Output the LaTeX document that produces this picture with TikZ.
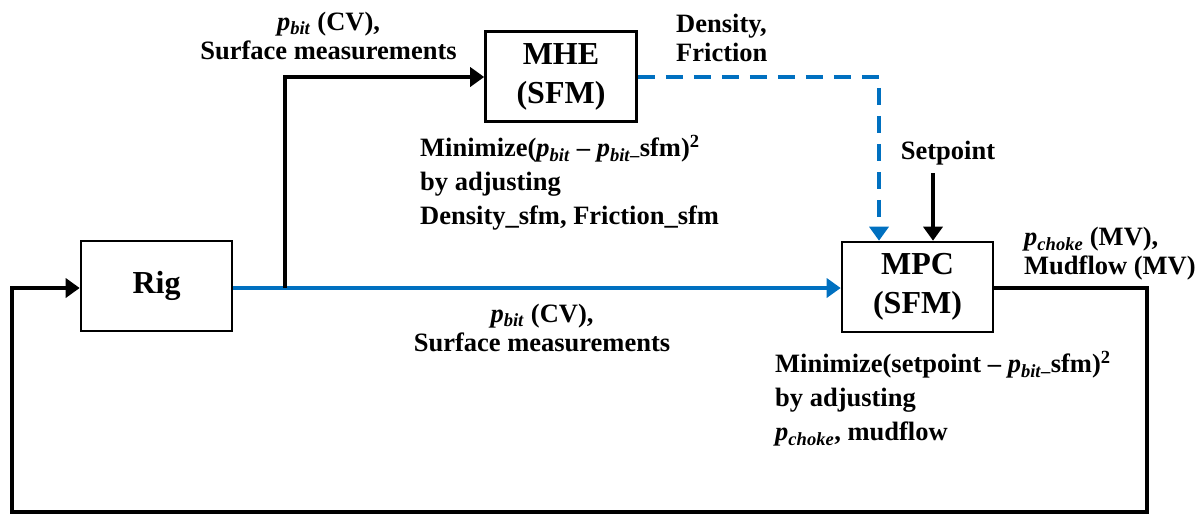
\documentclass[tikz,border=0pt]{standalone}
\usepackage{fontspec}
\setmainfont{Liberation Serif}
\usetikzlibrary{arrows.meta}
\definecolor{lineblue}{RGB}{0,112,192}
\newcommand{\pbit}{\textit{p}\textsubscript{\textit{bit}}}
\newcommand{\pchoke}{\textit{p}\textsubscript{\textit{choke}}}
\begin{document}
\begin{tikzpicture}[x=1pt,y=-1pt,
  blockbox/.style={draw, line width=2.6pt, minimum width=151pt, minimum height=90pt, inner sep=0pt,
    align=center, font=\bfseries\fontsize{32}{39}\selectfont},
  lbl/.style={inner sep=0pt, font=\bfseries\fontsize{26.5}{29}\selectfont},
  lblwide/.style={inner sep=0pt, font=\bfseries\fontsize{26.5}{34}\selectfont},
  conn/.style={line width=3.6pt, -{Triangle[length=14pt,width=19pt]}},
  bconn/.style={conn, color=lineblue},
]
\useasboundingbox (0,0) rectangle (1204,515);

\node[blockbox] (rig) at (156.5,286) {Rig};
\node[blockbox] (mhe) at (561,76.5) {MHE\\(SFM)};
\node[blockbox] (mpc) at (917.5,287) {MPC\\(SFM)};

\coordinate (branch) at (285,288);
\coordinate (mheturn) at (285,77);
\coordinate (dashturn) at (879,77);
\coordinate (spstart) at (933,173);
\coordinate (outturn) at (1147,288);
\coordinate (botright) at (1147,512);
\coordinate (botleft) at (12,512);
\coordinate (leftturn) at (12,288);

% Rig -> MPC (blue)
\draw[bconn] (rig.east |- branch) -- (mpc.west |- branch);
% branch to MHE
\draw[conn] (branch) -- (mheturn) -- (mhe.west |- mheturn);
% MHE -> MPC dashed
\draw[bconn, dash pattern=on 17pt off 11pt] (mhe.east |- dashturn) -- (dashturn) -- (dashturn |- mpc.north);
% setpoint
\draw[conn] (spstart) -- (spstart |- mpc.north);
% feedback
\draw[conn] (mpc.east |- outturn) -- (outturn) -- (botright) -- (botleft) -- (leftturn) -- (rig.west |- leftturn);

% labels
\node[lbl, align=center] (l1) at (328.5,36) {\pbit{} (CV),\\Surface measurements};
\node[lbl, align=left, anchor=west] (l2) at (676,38) {Density,\\Friction};
\node[lblwide, align=left, anchor=west] (l3) at (420,183) {Minimize(\pbit{} -- \textit{p}\textsubscript{\textit{bit}--}sfm)\textsuperscript{2}\\by adjusting\\Density\_sfm, Friction\_sfm};
\node[lbl] (l4) at (948,153) {Setpoint};
\node[lbl, align=left, anchor=west] (l5) at (1024,254) {\pchoke{} (MV),\\Mudflow (MV)};
\node[lbl, align=center] (l6) at (542,328) {\pbit{} (CV),\\Surface measurements};
\node[lblwide, align=left, anchor=west] (l7) at (775,399) {Minimize(setpoint -- \textit{p}\textsubscript{\textit{bit}--}sfm)\textsuperscript{2}\\by adjusting\\\pchoke, mudflow};
\end{tikzpicture}
\end{document}
